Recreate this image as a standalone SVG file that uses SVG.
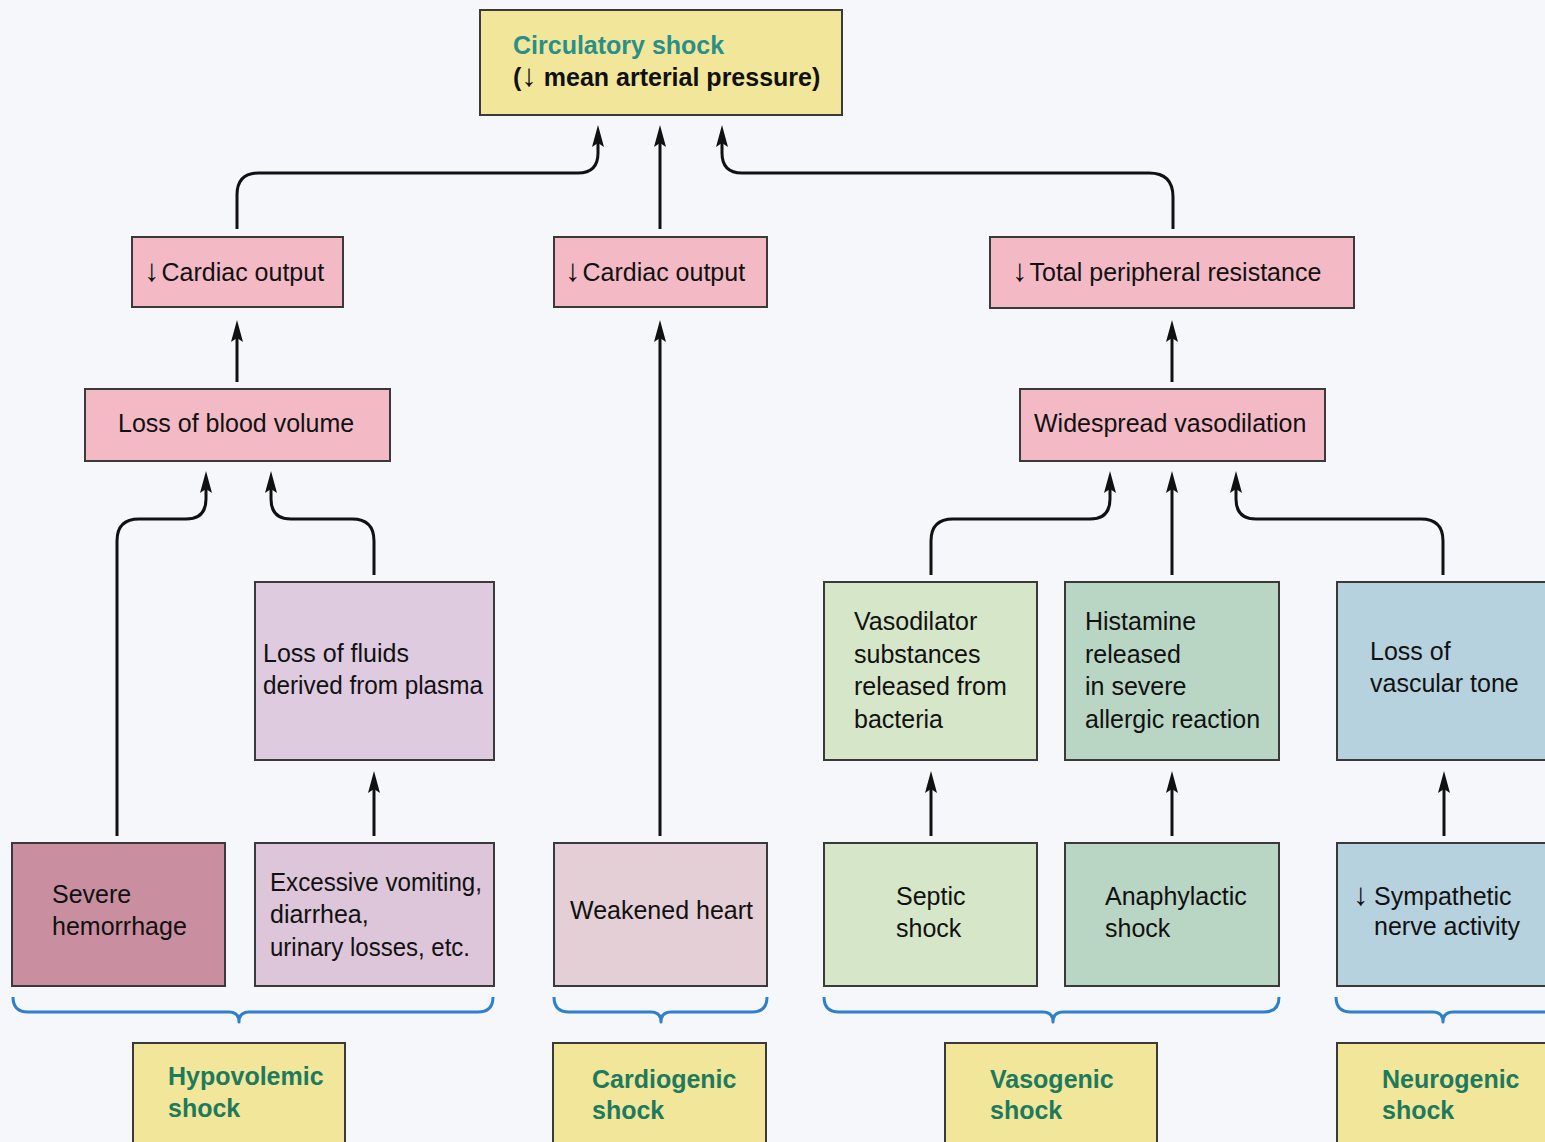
<svg xmlns="http://www.w3.org/2000/svg" width="1545" height="1142" viewBox="0 0 1545 1142">
<defs>
<style>
text{font-family:"Liberation Sans",Arial,sans-serif;font-size:25px;fill:#111}
.arr{font-size:31px;font-weight:normal}
.box{stroke:#3a3a3a;stroke-width:2}
.title{fill:#2a8f86;font-weight:bold}
.bold{font-weight:bold}
.shock{fill:#1d7a5c;font-weight:bold}
.yel{fill:#f2e69a}
.pink{fill:#f3bac6}
.lav{fill:#dfcbe0}
.rose{fill:#c98fa0}
.vom{fill:#ddc5da}
.heart{fill:#e3cfd5}
.lgreen{fill:#d6e6c8}
.mgreen{fill:#b9d6c4}
.blue{fill:#b7d2df}
.conn path{fill:none;stroke:#111;stroke-width:3;marker-end:url(#ah)}
.brace path{fill:none;stroke:#2f7fcf;stroke-width:3;stroke-linejoin:round}
</style>
<marker id="ah" viewBox="0 0 22 12" refX="14" refY="6" markerWidth="22" markerHeight="12" markerUnits="userSpaceOnUse" orient="auto">
<path d="M0,0 L22,6 L0,12 L4,6 Z" fill="#111"/>
</marker>
</defs>
<rect width="1545" height="1142" fill="#f6f7fa"/>

<g id="circulatory-shock">
<rect class="box yel" x="480" y="10" width="362" height="105"/>
<text class="title" x="513" y="54">Circulatory shock</text>
<text class="bold" x="513" y="86">(<tspan class="arr">↓</tspan> mean arterial pressure)</text>
</g>

<g id="cardiac-output-1">
<rect class="box pink" x="132" y="237" width="211" height="70"/>
<text x="144" y="281"><tspan class="arr">↓</tspan><tspan dx="2">Cardiac output</tspan></text>
</g>
<g id="cardiac-output-2">
<rect class="box pink" x="554" y="237" width="213" height="70"/>
<text x="565" y="281"><tspan class="arr">↓</tspan><tspan dx="2">Cardiac output</tspan></text>
</g>
<g id="total-peripheral-resistance">
<rect class="box pink" x="990" y="237" width="364" height="71"/>
<text x="1012" y="281"><tspan class="arr">↓</tspan><tspan dx="2">Total peripheral resistance</tspan></text>
</g>

<g id="loss-of-blood-volume">
<rect class="box pink" x="85" y="389" width="305" height="72"/>
<text x="118" y="432">Loss of blood volume</text>
</g>
<g id="widespread-vasodilation">
<rect class="box pink" x="1020" y="389" width="305" height="72"/>
<text x="1034" y="432">Widespread vasodilation</text>
</g>

<g id="loss-of-fluids">
<rect class="box lav" x="255" y="582" width="239" height="178"/>
<text x="263" y="662">Loss of fluids</text>
<text x="263" y="694" textLength="220" lengthAdjust="spacingAndGlyphs">derived from plasma</text>
</g>
<g id="vasodilator-substances">
<rect class="box lgreen" x="824" y="582" width="213" height="178"/>
<text x="854" y="630">Vasodilator</text>
<text x="854" y="663">substances</text>
<text x="854" y="695">released from</text>
<text x="854" y="728">bacteria</text>
</g>
<g id="histamine-released">
<rect class="box mgreen" x="1065" y="582" width="214" height="178"/>
<text x="1085" y="630">Histamine</text>
<text x="1085" y="663">released</text>
<text x="1085" y="695">in severe</text>
<text x="1085" y="728">allergic reaction</text>
</g>
<g id="loss-of-vascular-tone">
<rect class="box blue" x="1337" y="582" width="215" height="178"/>
<text x="1370" y="660">Loss of</text>
<text x="1370" y="692">vascular tone</text>
</g>

<g id="severe-hemorrhage">
<rect class="box rose" x="12" y="843" width="213" height="143"/>
<text x="52" y="903">Severe</text>
<text x="52" y="935">hemorrhage</text>
</g>
<g id="excessive-vomiting">
<rect class="box vom" x="255" y="843" width="239" height="143"/>
<text x="270" y="891" textLength="212" lengthAdjust="spacingAndGlyphs">Excessive vomiting,</text>
<text x="270" y="923">diarrhea,</text>
<text x="270" y="956" textLength="200" lengthAdjust="spacingAndGlyphs">urinary losses, etc.</text>
</g>
<g id="weakened-heart">
<rect class="box heart" x="554" y="843" width="213" height="143"/>
<text x="570" y="919">Weakened heart</text>
</g>
<g id="septic-shock">
<rect class="box lgreen" x="824" y="843" width="213" height="143"/>
<text x="896" y="905">Septic</text>
<text x="896" y="937">shock</text>
</g>
<g id="anaphylactic-shock">
<rect class="box mgreen" x="1065" y="843" width="214" height="143"/>
<text x="1105" y="905">Anaphylactic</text>
<text x="1105" y="937">shock</text>
</g>
<g id="sympathetic-nerve-activity">
<rect class="box blue" x="1337" y="843" width="215" height="143"/>
<text x="1353" y="905"><tspan class="arr">↓</tspan><tspan x="1374">Sympathetic</tspan></text>
<text x="1374" y="935">nerve activity</text>
</g>

<g id="hypovolemic-shock">
<rect class="box yel" x="133" y="1043" width="212" height="110"/>
<text class="shock" x="168" y="1085">Hypovolemic</text>
<text class="shock" x="168" y="1117">shock</text>
</g>
<g id="cardiogenic-shock">
<rect class="box yel" x="553" y="1043" width="213" height="110"/>
<text class="shock" x="592" y="1088">Cardiogenic</text>
<text class="shock" x="592" y="1119">shock</text>
</g>
<g id="vasogenic-shock">
<rect class="box yel" x="945" y="1043" width="212" height="110"/>
<text class="shock" x="990" y="1088">Vasogenic</text>
<text class="shock" x="990" y="1119">shock</text>
</g>
<g id="neurogenic-shock">
<rect class="box yel" x="1337" y="1043" width="215" height="110"/>
<text class="shock" x="1382" y="1088">Neurogenic</text>
<text class="shock" x="1382" y="1119">shock</text>
</g>

<g id="braces" class="brace">
<path d="M13,997 Q13,1012 28,1012 L229,1012 Q239,1012 239,1022 Q239,1012 249,1012 L478,1012 Q493,1012 493,997"/>
<path d="M554,997 Q554,1012 569,1012 L651,1012 Q661,1012 661,1022 Q661,1012 671,1012 L752,1012 Q767,1012 767,997"/>
<path d="M824,997 Q824,1012 839,1012 L1043,1012 Q1053,1012 1053,1022 Q1053,1012 1063,1012 L1264,1012 Q1279,1012 1279,997"/>
<path d="M1336,997 Q1336,1012 1351,1012 L1433,1012 Q1443,1012 1443,1022 Q1443,1012 1453,1012 L1550,1012"/>
</g>

<g id="connectors" class="conn">
<path d="M237,229 V195 Q237,173 259,173 H578 Q598,173 598,153 V133"/>
<path d="M660,229 V133"/>
<path d="M1173,229 V197 Q1173,173 1149,173 H742 Q722,173 722,153 V133"/>
<path d="M237,382 V328"/>
<path d="M660,836 V328"/>
<path d="M1172,382 V328"/>
<path d="M117,836 V541 Q117,519 139,519 H186 Q206,519 206,499 V479"/>
<path d="M374,575 V541 Q374,519 352,519 H291 Q271,519 271,499 V479"/>
<path d="M374,836 V779"/>
<path d="M931,575 V541 Q931,519 953,519 H1090 Q1110,519 1110,499 V479"/>
<path d="M1172,575 V479"/>
<path d="M1443,575 V541 Q1443,519 1421,519 H1256 Q1236,519 1236,499 V479"/>
<path d="M931,836 V779"/>
<path d="M1172,836 V779"/>
<path d="M1444,836 V779"/>
</g>
</svg>
